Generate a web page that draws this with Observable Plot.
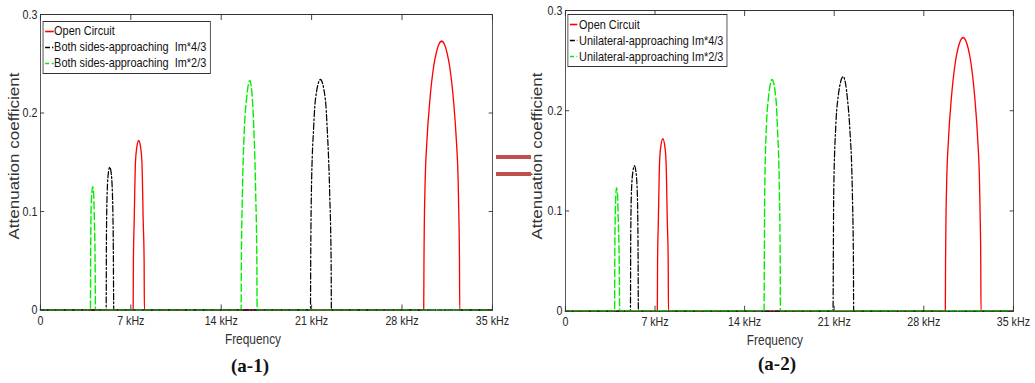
<!DOCTYPE html>
<html>
<head>
<meta charset="utf-8">
<script src="https://cdn.jsdelivr.net/npm/d3@7"></script>
<script src="https://cdn.jsdelivr.net/npm/@observablehq/plot@0.6"></script>
<style>
  body { margin: 0; background: #fff; }
  #page { position: relative; width: 1035px; height: 383px; overflow: hidden;
          font-family: "Liberation Sans", Arial, Helvetica, sans-serif; color: #262626; }
  /* each panel is laid out wide, then narrowed horizontally */
  .panel { position: absolute; top: 0; height: 350px; transform: scaleX(0.82); transform-origin: 0 0; }
  .panel svg { position: absolute; left: 0; top: 0; overflow: visible; }
  .legend { position: absolute; background: #fff; border: 1px solid #333; font-size: 13.3px;
            padding: 1px 4px 2px 0; color: #111; }
  .legend .row { display: flex; align-items: center; height: 16px; white-space: nowrap; }
  .legend svg { position: static; flex: none; }
  .ylabel { position: absolute; font-size: 17px; white-space: nowrap; color: #333;
            transform: translate(-50%, -50%) rotate(-90deg); }
  .xlabel { position: absolute; font-size: 14.5px; white-space: nowrap; color: #333; transform: translate(-50%, -50%); }
  .caption { position: absolute; font-family: "Liberation Serif", "Times New Roman", serif; font-weight: bold;
             font-size: 19px; color: #111; transform: translate(-50%, -50%); }
  .eq { position: absolute; background: #c0504d; }
</style>
</head>
<body>
<div id="page"></div>
<script>
// Frequency in kHz, attenuation coefficient (dimensionless)
const xTicks = [0, 7, 14, 21, 28, 35];
const xTickLabels = ["0", "7 kHz", "14 kHz", "21 kHz", "28 kHz", "35 kHz"];
const yTicks = [0, 0.1, 0.2, 0.3];
const yTickLabels = ["0", "0.1", "0.2", "0.3"];

// Open circuit response (same in both panels)
const openCircuit = [
  [0, 0], [7.18, 0], [7.20, 0.05], [7.26, 0.09], [7.36, 0.15], [7.46, 0.165], [7.61, 0.172],
  [7.76, 0.165], [7.86, 0.15], [7.96, 0.09], [8.03, 0.05], [8.05, 0],
  [29.68, 0], [29.70, 0.05], [29.73, 0.09], [29.79, 0.13], [29.93, 0.172], [30.15, 0.212],
  [30.46, 0.248], [30.67, 0.262], [30.86, 0.27], [31.07, 0.273], [31.28, 0.27], [31.47, 0.262],
  [31.68, 0.248], [31.99, 0.212], [32.21, 0.172], [32.35, 0.13], [32.41, 0.09], [32.45, 0.05],
  [32.47, 0], [35, 0]
];

// (a-1) both sides approaching
const bothSides43 = [
  [0, 0], [5.09, 0], [5.11, 0.07], [5.17, 0.12], [5.27, 0.14], [5.37, 0.145], [5.47, 0.14],
  [5.57, 0.12], [5.64, 0.07], [5.68, 0],
  [20.91, 0], [20.93, 0.05], [20.98, 0.118], [21.16, 0.186], [21.29, 0.213], [21.68, 0.234],
  [22.07, 0.213], [22.20, 0.186], [22.40, 0.118], [22.51, 0.05], [22.53, 0], [35, 0]
];
const bothSides23 = [
  [0, 0], [3.87, 0], [3.89, 0.06], [3.93, 0.105], [3.99, 0.12], [4.05, 0.125], [4.11, 0.12],
  [4.18, 0.09], [4.24, 0.04], [4.26, 0],
  [15.54, 0], [15.56, 0.05], [15.64, 0.118], [15.80, 0.186], [15.95, 0.213], [16.21, 0.233],
  [16.42, 0.213], [16.52, 0.186], [16.67, 0.118], [16.76, 0.05], [16.78, 0], [35, 0]
];

// (a-2) unilateral approaching
const unilateral43 = [
  [0, 0], [5.08, 0], [5.10, 0.07], [5.16, 0.12], [5.28, 0.14], [5.39, 0.145], [5.50, 0.14],
  [5.61, 0.12], [5.67, 0.07], [5.70, 0],
  [20.91, 0], [20.93, 0.05], [20.96, 0.117], [21.12, 0.184], [21.27, 0.21], [21.70, 0.234],
  [22.05, 0.21], [22.21, 0.184], [22.42, 0.117], [22.50, 0.05], [22.52, 0], [35, 0]
];
const unilateral23 = [
  [0, 0], [3.84, 0], [3.86, 0.06], [3.90, 0.10], [3.95, 0.118], [3.99, 0.123], [4.06, 0.118],
  [4.13, 0.09], [4.21, 0.04], [4.24, 0],
  [15.52, 0], [15.54, 0.05], [15.57, 0.117], [15.70, 0.184], [15.84, 0.21], [16.15, 0.231],
  [16.46, 0.21], [16.56, 0.184], [16.72, 0.117], [16.78, 0.05], [16.80, 0], [35, 0]
];

const styles = {
  red:   {stroke: "#ff0000", strokeWidth: 1.6},
  black: {stroke: "#000000", strokeWidth: 1.5, strokeDasharray: "6,2.5,1.5,2.5"},
  green: {stroke: "#00ee00", strokeWidth: 1.7, strokeDasharray: "7,3.5"}
};

const panels = [
  {
    left: 0, width: 610, marginLeft: 48.8, marginRight: 10, marginTop: 14, marginBottom: 40.5,
    series: [
      {name: "Open Circuit", data: openCircuit, style: styles.red},
      {name: "Both sides-approaching\u00a0\u00a0Im*4/3", data: bothSides43, style: styles.black},
      {name: "Both sides-approaching\u00a0\u00a0Im*2/3", data: bothSides23, style: styles.green}
    ],
    legend: {left: 52, top: 20.5, padLeft: 1.6, sample: 10.6, gap: 0.8},
    ylabel: {x: 18.3, y: 156}, xlabel: {x: 308.5, y: 339},
    caption: {text: "(a-1)", x: 250, y: 366}
  },
  {
    left: 515, width: 634, marginLeft: 61, marginRight: 26.7, marginTop: 10, marginBottom: 39.3,
    series: [
      {name: "Open Circuit", data: openCircuit, style: styles.red},
      {name: "Unilateral-approaching Im*4/3", data: unilateral43, style: styles.black},
      {name: "Unilateral-approaching Im*2/3", data: unilateral23, style: styles.green}
    ],
    legend: {left: 63.8, top: 14, padLeft: 2.4, sample: 9, gap: 2},
    ylabel: {x: 28, y: 156}, xlabel: {x: 317, y: 340},
    caption: {text: "(a-2)", x: 777, y: 364}
  }
];

const page = document.getElementById("page");

for (const p of panels) {
  const div = document.createElement("div");
  div.className = "panel";
  div.style.left = p.left + "px";
  div.style.width = p.width + "px";

  const chart = Plot.plot({
    width: p.width,
    height: 350,
    marginLeft: p.marginLeft,
    marginRight: p.marginRight,
    marginTop: p.marginTop,
    marginBottom: p.marginBottom,
    x: {domain: [0, 35]},
    y: {domain: [0, 0.3]},
    style: {fontFamily: "'Liberation Sans', Arial, sans-serif", fontSize: "13px", color: "#333", background: "transparent"},
    marks: [
      ...p.series.map(s => Plot.line(s.data, {x: d => d[0], y: d => d[1], curve: "monotone-x", ...s.style})),
      Plot.frame({stroke: "#333", strokeWidth: 1}),
      Plot.axisX(xTicks, {anchor: "bottom", tickSize: -5, tickPadding: 11, label: null,
                          tickFormat: d => xTickLabels[xTicks.indexOf(d)], fill: "#262626"}),
      Plot.axisX(xTicks, {anchor: "top", tickSize: -5, label: null, tickFormat: () => ""}),
      Plot.axisY(yTicks, {anchor: "left", tickSize: -5, tickPadding: 8.7, label: null,
                          tickFormat: d => yTickLabels[yTicks.indexOf(d)], fill: "#262626"}),
      Plot.axisY(yTicks, {anchor: "right", tickSize: -5, label: null, tickFormat: () => ""})
    ]
  });
  div.appendChild(chart);

  // legend box inside the plot area
  const lg = document.createElement("div");
  lg.className = "legend";
  lg.style.left = p.legend.left + "px";
  lg.style.top = p.legend.top + "px";
  lg.style.paddingLeft = p.legend.padLeft + "px";
  for (const s of p.series) {
    const row = document.createElement("div");
    row.className = "row";
    const ns = "http://www.w3.org/2000/svg";
    const sw = document.createElementNS(ns, "svg");
    sw.setAttribute("width", p.legend.sample);
    sw.setAttribute("height", 16);
    const ln = document.createElementNS(ns, "line");
    ln.setAttribute("x1", 0); ln.setAttribute("x2", p.legend.sample);
    ln.setAttribute("y1", 8.5); ln.setAttribute("y2", 8.5);
    ln.setAttribute("stroke", s.style.stroke);
    ln.setAttribute("stroke-width", s.style.strokeWidth);
    if (s.style.strokeDasharray) ln.setAttribute("stroke-dasharray", s.style.strokeDasharray.replace("7,3.5", "5,3"));
    sw.appendChild(ln);
    row.appendChild(sw);
    const t = document.createElement("span");
    t.textContent = s.name;
    t.style.marginLeft = p.legend.gap + "px";
    row.appendChild(t);
    lg.appendChild(row);
  }
  div.appendChild(lg);

  const yl = document.createElement("div");
  yl.className = "ylabel";
  yl.textContent = "Attenuation coefficient";
  yl.style.left = p.ylabel.x + "px";
  yl.style.top = p.ylabel.y + "px";
  div.appendChild(yl);

  const xl = document.createElement("div");
  xl.className = "xlabel";
  xl.textContent = "Frequency";
  xl.style.left = p.xlabel.x + "px";
  xl.style.top = p.xlabel.y + "px";
  div.appendChild(xl);

  page.appendChild(div);

  const cap = document.createElement("div");
  cap.className = "caption";
  cap.textContent = p.caption.text;
  cap.style.left = p.caption.x + "px";
  cap.style.top = p.caption.y + "px";
  page.appendChild(cap);
}

// equals sign between the two panels
for (const top of [154.7, 171.7]) {
  const bar = document.createElement("div");
  bar.className = "eq";
  bar.style.left = "496px";
  bar.style.top = top + "px";
  bar.style.width = "34.7px";
  bar.style.height = "4px";
  page.appendChild(bar);
}
</script>
</body>
</html>
